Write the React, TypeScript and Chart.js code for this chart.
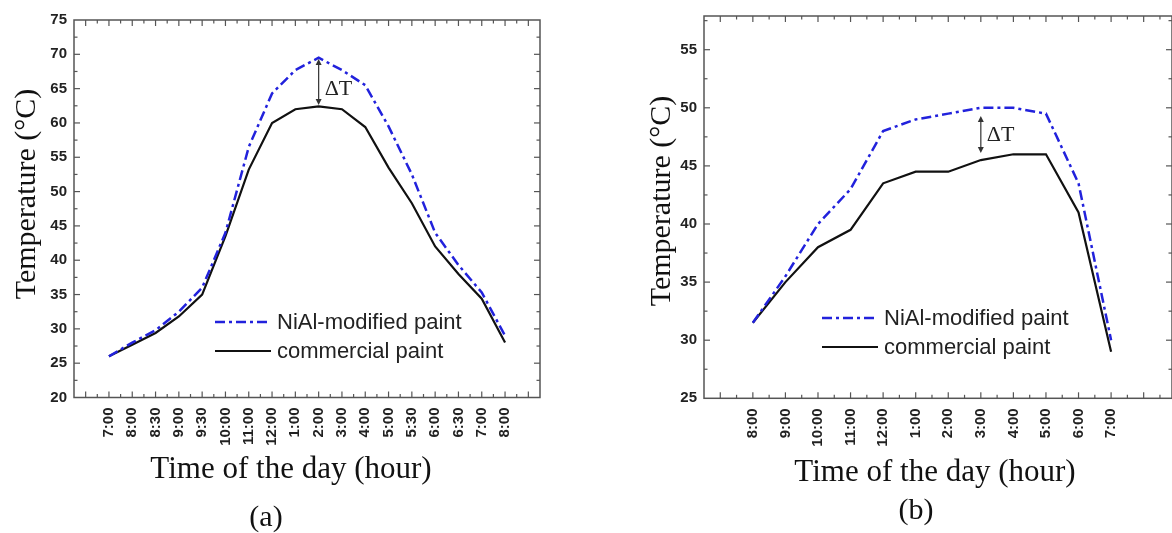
import React, { useEffect, useRef } from 'react';
import { Chart, registerables } from 'chart.js';

Chart.register(...registerables);

// ---------- data (a) ----------
const labelsA = ['7:00', '8:00', '8:30', '9:00', '9:30', '10:00', '11:00', '12:00', '1:00', '2:00', '3:00', '4:00', '5:00', '5:30', '6:00', '6:30', '7:00', '8:00'];
const niAlA = [26, 28, 29.8, 32.5, 36, 44, 56.5, 64.3, 67.7, 69.5, 67.7, 65.5, 59.5, 52.5, 44, 39.3, 35.3, 29];
const commercialA = [26, 27.7, 29.4, 31.8, 35, 43.5, 53.2, 60, 62, 62.4, 62, 59.4, 53.5, 48.3, 42, 38, 34.4, 28];
const yTicksA = [20, 25, 30, 35, 40, 45, 50, 55, 60, 65, 70, 75];

// ---------- data (b) ----------
const labelsB = ['8:00', '9:00', '10:00', '11:00', '12:00', '1:00', '2:00', '3:00', '4:00', '5:00', '6:00', '7:00'];
const niAlB = [31.5, 35.5, 40, 43, 48, 49, 49.5, 50, 50, 49.5, 43.5, 30];
const commercialB = [31.5, 35, 38, 39.5, 43.5, 44.5, 44.5, 45.5, 46, 46, 41, 29];
const yTicksB = [25, 30, 35, 40, 45, 50, 55];

const seriesNames = ['NiAl-modified paint', 'commercial paint'];
const xTitle = 'Time of the day (hour)';
const yTitle = 'Temperature (°C)';

const BLUE = '#2222dc';
const DASH = [10, 4, 3, 4];
const FRAME = '#555';
const TICKFONT = { family: '"Liberation Sans", Arial, sans-serif', size: 15, weight: 'bold' as const };
const SERIF = '"Liberation Serif", "Times New Roman", serif';
const SANS = '"Liberation Sans", Arial, sans-serif';

type PanelCfg = {
  id: string;
  left: number;
  width: number;
  labels: string[];
  niAl: number[];
  commercial: number[];
  yTicks: number[];
  xMin: number; xMax: number; yMin: number; yMax: number;
  padTop: number; padRight: number;
  yScaleWidth: number; xScaleHeight: number;
  deltaIdx: number; deltaTop: number; deltaBottom: number; deltaTextY: number;
  legendX: number; legendY: number;
  yTitleX: number; yTitleY: number;
  xTitleX: number; xTitleY: number;
  tag: string; tagX: number; tagY: number;
};

// all layout positions are local to each panel's canvas
const panelA: PanelCfg = {
  id: 'a', left: 0, width: 590,
  labels: labelsA, niAl: niAlA, commercial: commercialA, yTicks: yTicksA,
  xMin: -1.5, xMax: 18.5, yMin: 20, yMax: 75,
  padTop: 20, padRight: 50, yScaleWidth: 74, xScaleHeight: 135.5,
  deltaIdx: 9, deltaTop: 69.3, deltaBottom: 62.6, deltaTextY: 64.9,
  legendX: 215, legendY: 322,
  yTitleX: 27, yTitleY: 194,
  xTitleX: 291, xTitleY: 478,
  tag: '(a)', tagX: 266, tagY: 518,
};

const panelB: PanelCfg = {
  id: 'b', left: 600, width: 572,
  labels: labelsB, niAl: niAlB, commercial: commercialB, yTicks: yTicksB,
  xMin: -1.5, xMax: 12.87, yMin: 25, yMax: 57.9,
  padTop: 15, padRight: 0, yScaleWidth: 104, xScaleHeight: 134.7,
  deltaIdx: 7, deltaTop: 49.3, deltaBottom: 46.1, deltaTextY: 47.6,
  legendX: 222, legendY: 318,
  yTitleX: 62, yTitleY: 201,
  xTitleX: 335, xTitleY: 481,
  tag: '(b)', tagX: 316, tagY: 511,
};

function makePlugin(cfg: PanelCfg) {
  return {
    id: 'decor_' + cfg.id,
    afterDraw(chart: any) {
      const ctx: CanvasRenderingContext2D = chart.ctx;
      const { left, right, top, bottom } = chart.chartArea;
      const xs = chart.scales.x;
      const ys = chart.scales.y;
      const seg = (x1: number, y1: number, x2: number, y2: number) => {
        ctx.beginPath(); ctx.moveTo(x1, y1); ctx.lineTo(x2, y2); ctx.stroke();
      };
      ctx.save();
      // frame
      ctx.strokeStyle = FRAME;
      ctx.lineWidth = 1.5;
      ctx.strokeRect(left, top, right - left, bottom - top);
      // x ticks (inward, mirrored)
      ctx.lineWidth = 1.2;
      for (let v = Math.ceil(xs.min * 2) / 2; v <= xs.max + 1e-9; v += 0.5) {
        const px = xs.getPixelForValue(v);
        if (px <= left + 1 || px >= right - 1) continue;
        const major = Math.abs(v - Math.round(v)) < 1e-6;
        const len = major ? 6 : 3.5;
        seg(px, bottom, px, bottom - len);
        seg(px, top, px, top + len);
      }
      // y ticks
      for (let v = Math.ceil(ys.min / 2.5) * 2.5; v <= ys.max + 1e-9; v += 2.5) {
        const py = ys.getPixelForValue(v);
        if (py <= top + 1 || py >= bottom - 1) continue;
        const major = Math.abs(v / 5 - Math.round(v / 5)) < 1e-6;
        const len = major ? 6 : 3.5;
        seg(left, py, left + len, py);
        seg(right, py, right - len, py);
      }
      // legend
      const lx = cfg.legendX;
      const rows = [
        { color: BLUE, dash: DASH, width: 2.5, text: seriesNames[0] },
        { color: '#111', dash: [] as number[], width: 2.2, text: seriesNames[1] },
      ];
      rows.forEach((r, i) => {
        const y = cfg.legendY + i * 29;
        ctx.strokeStyle = r.color;
        ctx.lineWidth = r.width;
        ctx.setLineDash(r.dash);
        seg(lx, y, lx + 56, y);
        ctx.setLineDash([]);
        ctx.fillStyle = '#222';
        ctx.font = `22px ${SANS}`;
        ctx.textAlign = 'left';
        ctx.textBaseline = 'middle';
        ctx.fillText(r.text, lx + 62, y + 1);
      });
      // delta T arrow
      const ax = xs.getPixelForValue(cfg.deltaIdx);
      const ay1 = ys.getPixelForValue(cfg.deltaTop);
      const ay2 = ys.getPixelForValue(cfg.deltaBottom);
      ctx.strokeStyle = '#333';
      ctx.fillStyle = '#333';
      ctx.lineWidth = 1.2;
      seg(ax, ay1 + 3, ax, ay2 - 3);
      ctx.beginPath(); ctx.moveTo(ax, ay1); ctx.lineTo(ax - 3, ay1 + 6); ctx.lineTo(ax + 3, ay1 + 6); ctx.closePath(); ctx.fill();
      ctx.beginPath(); ctx.moveTo(ax, ay2); ctx.lineTo(ax - 3, ay2 - 6); ctx.lineTo(ax + 3, ay2 - 6); ctx.closePath(); ctx.fill();
      ctx.fillStyle = '#222';
      ctx.font = `22px ${SERIF}`;
      ctx.textAlign = 'left';
      ctx.textBaseline = 'middle';
      ctx.fillText('ΔT', ax + 6, ys.getPixelForValue(cfg.deltaTextY));
      // axis titles
      ctx.fillStyle = '#111';
      ctx.font = `30px ${SERIF}`;
      ctx.save();
      ctx.translate(cfg.yTitleX, cfg.yTitleY);
      ctx.rotate(-Math.PI / 2);
      ctx.textAlign = 'center';
      ctx.textBaseline = 'middle';
      ctx.fillText(yTitle, 0, 0);
      ctx.restore();
      ctx.font = `31px ${SERIF}`;
      ctx.textAlign = 'center';
      ctx.textBaseline = 'alphabetic';
      ctx.fillText(xTitle, cfg.xTitleX, cfg.xTitleY);
      ctx.font = `30px ${SERIF}`;
      ctx.textBaseline = 'middle';
      ctx.fillText(cfg.tag, cfg.tagX, cfg.tagY);
      ctx.restore();
    },
  };
}

function Panel({ cfg }: { cfg: PanelCfg }) {
  const ref = useRef<HTMLCanvasElement | null>(null);
  useEffect(() => {
    if (!ref.current) return;
    const chart = new Chart(ref.current, {
      type: 'line',
      data: {
        datasets: [
          {
            label: seriesNames[0],
            data: cfg.niAl.map((v, i) => ({ x: i, y: v })),
            borderColor: BLUE,
            borderWidth: 2.5,
            borderDash: DASH,
            pointRadius: 0,
            tension: 0,
          },
          {
            label: seriesNames[1],
            data: cfg.commercial.map((v, i) => ({ x: i, y: v })),
            borderColor: '#111',
            borderWidth: 2.2,
            pointRadius: 0,
            tension: 0,
          },
        ],
      },
      options: {
        responsive: false,
        maintainAspectRatio: false,
        animation: false,
        layout: { padding: { top: cfg.padTop, right: cfg.padRight, left: 0, bottom: 0 } },
        plugins: { legend: { display: false }, tooltip: { enabled: false }, title: { display: false } },
        scales: {
          x: {
            type: 'linear',
            min: cfg.xMin,
            max: cfg.xMax,
            grid: { display: false, drawTicks: false },
            border: { display: false },
            ticks: {
              autoSkip: false,
              minRotation: 90,
              maxRotation: 90,
              padding: 10,
              color: '#222',
              font: TICKFONT,
              callback: (v: any) => cfg.labels[v as number] ?? '',
            },
            afterBuildTicks: (s: any) => { s.ticks = cfg.labels.map((_, i) => ({ value: i })); },
            afterFit: (s: any) => { s.height = cfg.xScaleHeight; },
          },
          y: {
            type: 'linear',
            min: cfg.yMin,
            max: cfg.yMax,
            grid: { display: false, drawTicks: false },
            border: { display: false },
            ticks: { padding: 7, color: '#222', font: TICKFONT },
            afterBuildTicks: (s: any) => { s.ticks = cfg.yTicks.map((v) => ({ value: v })); },
            afterFit: (s: any) => { s.width = cfg.yScaleWidth; },
          },
        },
      },
      plugins: [makePlugin(cfg)],
    } as any);
    return () => chart.destroy();
  }, [cfg]);
  return (
    <canvas
      ref={ref}
      width={cfg.width}
      height={533}
      style={{ position: 'absolute', left: cfg.left, top: 0, width: cfg.width, height: 533 }}
    />
  );
}

export default function App() {
  return (
    <div style={{ position: 'absolute', left: 0, top: 0, width: 1172, height: 533, background: '#fff', overflow: 'hidden' }}>
      <Panel cfg={panelA} />
      <Panel cfg={panelB} />
    </div>
  );
}
